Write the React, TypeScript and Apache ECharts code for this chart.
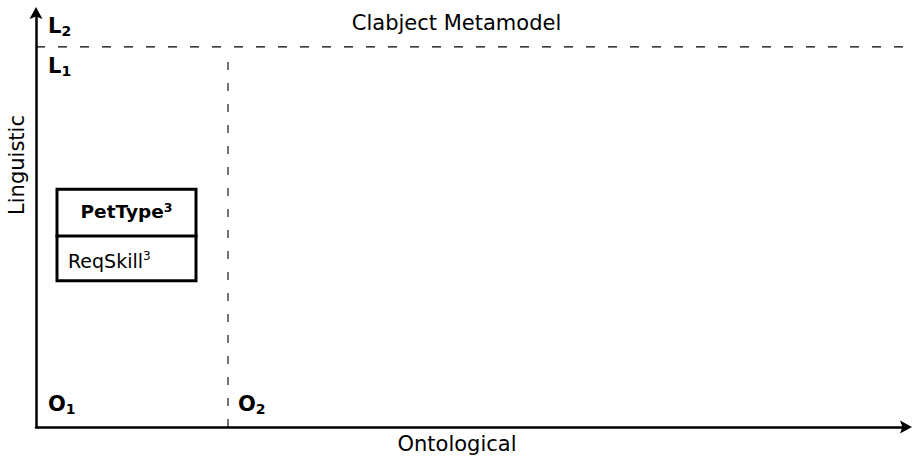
import React, { useEffect, useRef } from "react";
import * as echarts from "echarts";

// Axis extents (abstract diagram units)
const xMax = 870;
const yMax = 416;

// Ontological level boundaries (x) and linguistic level boundaries (y)
const ontoBoundaries = [0, 192];
const lingBoundaries = [0, 382];
const vDashTop = 370;
const hDashRight = 869;

// Clabject box: x0, x1, y-bottom, y-top, divider
const boxX = [21, 160];
const boxY = [147, 239];
const boxDivider = 192;

const titleText = "Clabject Metamodel";
const xName = "Ontological";
const yName = "Linguistic";
const clabName = "PetType";
const attrName = "ReqSkill";
const potency = "3";

const FONT = "DejaVu Sans";
const ARROW = "path://M6,0 L12,11 L6,8.8 L0,11 Z";

export default function App() {
  const ref = useRef<HTMLDivElement>(null);
  useEffect(() => {
    if (!ref.current) return;
    const chart = echarts.init(ref.current, undefined, { renderer: "svg" });

    const rich = {
      b: { fontFamily: FONT, fontWeight: "bold", fontSize: 21, lineHeight: 24, color: "#000", verticalAlign: "middle" },
      s: { fontFamily: FONT, fontWeight: "bold", fontSize: 14, lineHeight: 14, color: "#000", verticalAlign: "bottom" },
      bb: { fontFamily: FONT, fontWeight: "bold", fontSize: 18.5, lineHeight: 22, color: "#000", verticalAlign: "middle" },
      n: { fontFamily: FONT, fontWeight: "normal", fontSize: 19, lineHeight: 22, color: "#000", verticalAlign: "middle" },
      sup: { fontFamily: FONT, fontWeight: "normal", fontSize: 12, lineHeight: 12, color: "#000", verticalAlign: "top" },
      supb: { fontFamily: FONT, fontWeight: "bold", fontSize: 12.5, lineHeight: 12, color: "#000", verticalAlign: "top" },
    };

    const lbl = (text: string, offset: number[], align = "left") => ({
      show: true,
      position: "inside",
      align,
      verticalAlign: "middle",
      offset,
      formatter: text,
      color: "#000",
      opacity: 1,
      rich,
    });

    const x0 = ontoBoundaries[0];
    const y0 = lingBoundaries[0];
    const labels = [
      { value: [ontoBoundaries[0], y0], label: lbl("{b|O}{s|1}", [12, -23]) },
      { value: [ontoBoundaries[1], y0], label: lbl("{b|O}{s|2}", [10, -23]) },
      { value: [x0, lingBoundaries[1]], label: lbl("{b|L}{s|1}", [12, 19]) },
      { value: [x0, lingBoundaries[1]], label: lbl("{b|L}{s|2}", [12, -21]) },
      {
        value: [(boxX[0] + boxX[1]) / 2, (boxDivider + boxY[1]) / 2],
        label: lbl(`{bb|${clabName}}{supb|${potency}}`, [0, -1], "center"),
      },
      {
        value: [boxX[0], (boxY[0] + boxDivider) / 2],
        label: lbl(`{n|${attrName}}{sup|${potency}}`, [11, 3]),
      },
    ];

    const boxLine = {
      type: "line",
      symbol: "none",
      silent: true,
      lineStyle: { color: "#000", width: 3, cap: "square", join: "miter" },
    };

    const axisLine = {
      show: true,
      onZero: false,
      symbol: ["none", ARROW],
      symbolSize: [13, 12],
      lineStyle: { color: "#000", width: 2.5 },
    };

    chart.setOption({
      animation: false,
      title: {
        text: titleText,
        left: "center",
        top: 12,
        padding: 0,
        textStyle: { fontFamily: FONT, fontSize: 21, fontWeight: "normal", color: "#000" },
      },
      grid: { left: 36, right: 7, top: 13, bottom: 30, containLabel: false },
      xAxis: {
        type: "value",
        min: 0,
        max: xMax,
        name: xName,
        nameLocation: "middle",
        nameGap: 6,
        nameTextStyle: {
          fontFamily: FONT,
          fontSize: 21,
          color: "#000",
          verticalAlign: "top",
          padding: [0, 28, 0, 0],
        },
        axisLine,
        axisTick: { show: false },
        axisLabel: { show: false },
        splitLine: { show: false },
      },
      yAxis: {
        type: "value",
        min: 0,
        max: yMax,
        axisLine,
        axisTick: { show: false },
        axisLabel: { show: false },
        splitLine: { show: false },
      },
      graphic: [
        {
          type: "text",
          x: 17,
          y: 165,
          rotation: Math.PI / 2,
          style: {
            text: yName,
            fontFamily: FONT,
            fontSize: 21,
            fill: "#000",
            align: "center",
            verticalAlign: "middle",
          },
        },
      ],
      series: [
        {
          type: "line",
          symbol: "none",
          silent: true,
          data: [
            [ontoBoundaries[1], y0],
            [ontoBoundaries[1], vDashTop],
          ],
          lineStyle: { color: "#000", width: 1.1, type: [8, 13] },
        },
        {
          type: "line",
          symbol: "none",
          silent: true,
          data: [
            [x0, lingBoundaries[1]],
            [hDashRight, lingBoundaries[1]],
          ],
          lineStyle: { color: "#000", width: 1.1, type: [9, 13] },
        },
        {
          ...boxLine,
          data: [
            [boxX[0], boxY[0]],
            [boxX[1], boxY[0]],
            [boxX[1], boxY[1]],
            [boxX[0], boxY[1]],
            [boxX[0], boxY[0]],
          ],
        },
        {
          ...boxLine,
          data: [
            [boxX[0], boxDivider],
            [boxX[1], boxDivider],
          ],
        },
        {
          type: "scatter",
          symbolSize: 1,
          silent: true,
          itemStyle: { color: "rgba(0,0,0,0)", opacity: 1 },
          data: labels,
        },
      ],
    });
    return () => chart.dispose();
  }, []);
  return <div ref={ref} style={{ width: 913, height: 459, position: "absolute", left: 0, top: 0 }} />;
}
